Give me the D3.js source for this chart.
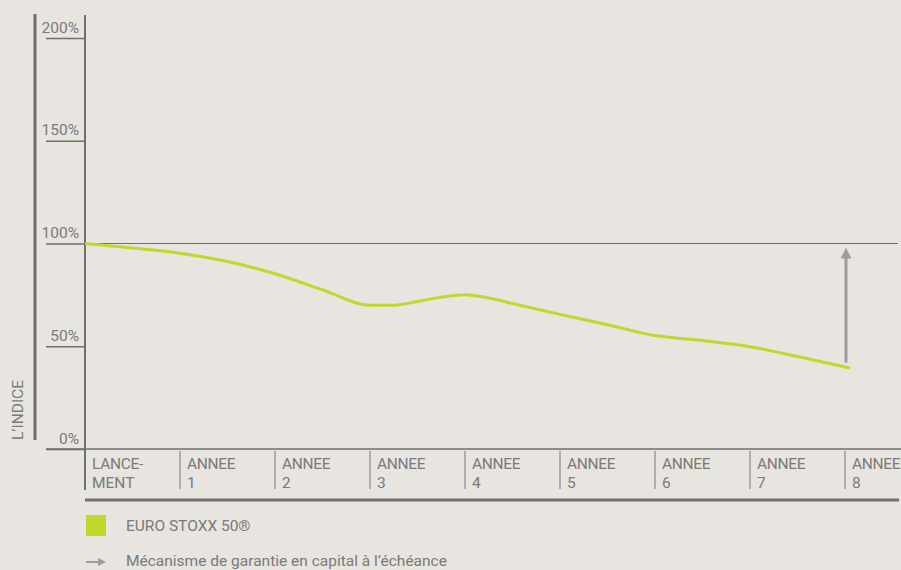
<!DOCTYPE html>
<html>
<head>
<meta charset="utf-8">
<script src="https://cdn.jsdelivr.net/npm/d3@7"></script>
<style>
  body { margin: 0; background: #e8e4df; }
  svg { display: block; font-family: Roboto, "Liberation Sans", sans-serif; }
</style>
</head>
<body>
<div id="chart"></div>
<script>
// values (year, % of the index at launch)
const years = [0, 0.5, 1, 1.5, 2, 2.5, 3, 3.25, 3.5, 3.75, 4, 4.25, 4.5, 5, 5.5, 6, 6.5, 7, 7.5, 8.05];
const euroStoxx = [100, 97.8, 95.3, 91.2, 85.3, 77.5, 70, 70, 71.8, 73.9, 75.1, 73.5, 70.8, 65.5, 60.5, 55.2, 52.8, 49.8, 45, 39.4];
const yTicks = [0, 50, 100, 150, 200];
const categories = [["LANCE-", "MENT"], ["ANNEE", "1"], ["ANNEE", "2"], ["ANNEE", "3"], ["ANNEE", "4"],
                    ["ANNEE", "5"], ["ANNEE", "6"], ["ANNEE", "7"], ["ANNEE", "8"]];
const guarantee = {year: 8, from: 42, to: 100};
const legendItems = ["EURO STOXX 50®", "Mécanisme de garantie en capital à l’échéance"];

const width = 901, height = 570;
const grey = "#6f6f6f", textGrey = "#7a7a7a", green = "#c4d62c";

const svg = d3.select("#chart").append("svg")
  .attr("width", width)
  .attr("height", height);

svg.append("rect").attr("width", width).attr("height", height).attr("fill", "#e8e4df");

const x = d3.scaleLinear().domain([0, 8]).range([85, 845]);
const y = d3.scaleLinear().domain([0, 200]).range([449, 38]);

// thick bar next to the axis title
svg.append("line")
  .attr("x1", 35).attr("x2", 35)
  .attr("y1", 14).attr("y2", 440)
  .attr("stroke", grey).attr("stroke-width", 3);

svg.append("text")
  .attr("transform", "translate(23,440) rotate(-90)")
  .attr("fill", textGrey)
  .attr("font-size", "15.5px")
  .text("L’INDICE");

// y axis
const yAxis = svg.append("g")
  .attr("transform", `translate(${x(0)},0)`)
  .call(d3.axisLeft(y).tickValues(yTicks).tickSize(39).tickFormat(d => d + "%"));
yAxis.select(".domain").remove();
yAxis.selectAll(".tick line").attr("stroke", grey).attr("stroke-width", 1.5);
yAxis.selectAll(".tick text")
  .attr("x", -6).attr("y", -6).attr("dy", 0)
  .attr("fill", textGrey)
  .attr("font-size", "15.5px")
  .attr("font-family", "Roboto, sans-serif");

svg.append("line")
  .attr("x1", x(0)).attr("x2", x(0))
  .attr("y1", 15).attr("y2", 490)
  .attr("stroke", grey).attr("stroke-width", 2);

// x axis line
svg.append("line")
  .attr("x1", 46).attr("x2", width)
  .attr("y1", y(0)).attr("y2", y(0))
  .attr("stroke", grey).attr("stroke-width", 1.5);

// 100% reference line
svg.append("line")
  .attr("x1", x(0)).attr("x2", 898)
  .attr("y1", y(100)).attr("y2", y(100))
  .attr("stroke", grey).attr("stroke-width", 1.2);

// category bands
const cat = svg.selectAll(".cat")
  .data(categories)
  .enter().append("g")
  .attr("class", "cat")
  .attr("transform", (d, i) => `translate(${x(i)},0)`);

cat.filter((d, i) => i > 0).append("line")
  .attr("y1", 451).attr("y2", 489)
  .attr("stroke", "#8a8a8a").attr("stroke-width", 1.2);

cat.append("text")
  .attr("x", 7).attr("y", 469)
  .attr("fill", textGrey)
  .attr("font-size", "15.5px")
  .attr("letter-spacing", "-0.3px")
  .text(d => d[0]);

cat.append("text")
  .attr("x", 7).attr("y", 488)
  .attr("fill", textGrey)
  .attr("font-size", "15.5px")
  .text(d => d[1]);

svg.append("line")
  .attr("x1", x(0)).attr("x2", 899)
  .attr("y1", 500).attr("y2", 500)
  .attr("stroke", grey).attr("stroke-width", 3);

// index line
const line = d3.line()
  .x((d, i) => x(years[i]))
  .y(d => y(d))
  .curve(d3.curveMonotoneX);

svg.append("path")
  .datum(euroStoxx)
  .attr("d", line)
  .attr("fill", "none")
  .attr("stroke", green)
  .attr("stroke-width", 3);

// guarantee arrow
const defs = svg.append("defs");
defs.append("marker")
  .attr("id", "head")
  .attr("viewBox", "0 0 10 10")
  .attr("refX", 1).attr("refY", 5)
  .attr("markerUnits", "userSpaceOnUse")
  .attr("markerWidth", 11).attr("markerHeight", 11)
  .attr("orient", "auto")
  .append("path")
  .attr("d", "M0,0L10,5L0,10Z")
  .attr("fill", "#9d9d9d");

svg.append("line")
  .attr("x1", x(guarantee.year) + 1).attr("x2", x(guarantee.year) + 1)
  .attr("y1", y(guarantee.from)).attr("y2", y(guarantee.to) + 14)
  .attr("stroke", "#9d9d9d").attr("stroke-width", 3)
  .attr("marker-end", "url(#head)");

// legend
svg.append("rect")
  .attr("x", 86).attr("y", 515)
  .attr("width", 20).attr("height", 21)
  .attr("fill", green);

svg.append("text")
  .attr("x", 126).attr("y", 531)
  .attr("fill", textGrey)
  .attr("font-size", "15.5px")
  .text(legendItems[0]);

svg.append("line")
  .attr("x1", 86).attr("x2", 99)
  .attr("y1", 562).attr("y2", 562)
  .attr("stroke", "#9d9d9d").attr("stroke-width", 2);
svg.append("path")
  .attr("d", "M98,558L106,562L98,566Z")
  .attr("fill", "#9d9d9d");

svg.append("text")
  .attr("x", 126).attr("y", 566)
  .attr("fill", textGrey)
  .attr("font-size", "15.5px")
  .text(legendItems[1]);
</script>
</body>
</html>
